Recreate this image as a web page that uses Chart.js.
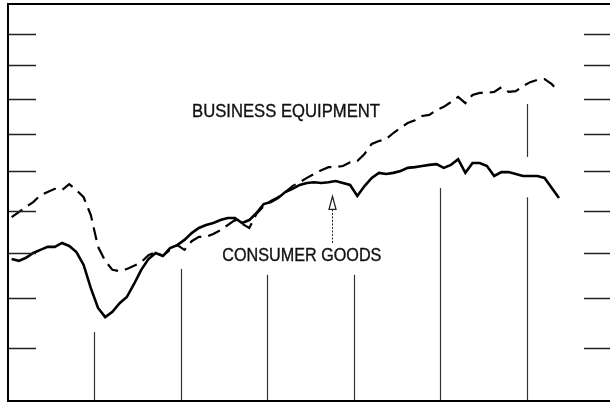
<!DOCTYPE html>
<html lang="en">
<head>
<meta charset="UTF-8">
<title>Business equipment vs consumer goods</title>
<script src="https://cdn.jsdelivr.net/npm/chart.js"></script>
<style>
    html, body { margin: 0; padding: 0; overflow: hidden; background: #fff; }
    .grafico { width: 614px; height: 403px; }
</style>
</head>
<body>
<div class="grafico"><canvas id="linhas"></canvas></div>

<script>
    // monthly index values (log scale, 7 years shown)
    const consumerGoods = [
        138.6, 138.2, 138.9, 140.0, 140.7, 141.4, 141.4, 142.3, 141.6, 140.2, 137.3, 132.2,
        128.0, 126.1, 127.2, 129.0, 130.3, 133.1, 136.2, 138.6, 140.0, 139.3, 141.1, 141.8,
        143.0, 144.6, 145.8, 146.5, 147.0, 147.7, 148.2, 148.2, 147.0, 147.7, 149.4, 151.6,
        152.1, 153.1, 154.6, 155.4, 156.4, 156.9, 157.1, 156.9, 157.1, 157.4, 156.9, 156.4,
        153.6, 156.1, 158.2, 159.5, 159.2, 159.5, 160.0, 160.8, 161.0, 161.3, 161.6, 161.8,
        160.8, 161.6, 163.1, 159.5, 162.1, 162.1, 161.3, 158.7, 159.7, 159.7, 159.2, 158.7,
        158.7, 158.7, 158.2, 155.6, 153.1
    ];
    const businessEquipment = [
        148.4, 149.6, 150.9, 152.1, 153.8, 154.6, 155.4, 155.1, 156.6, 155.1, 153.3, 148.9,
        141.4, 138.2, 136.2, 135.9, 136.4, 137.1, 137.9, 139.5, 140.2, 139.3, 140.7, 141.8,
        140.7, 142.7, 143.7, 143.7, 144.4, 145.3, 146.5, 147.7, 146.8, 145.8, 149.2, 151.1,
        152.4, 153.3, 154.6, 156.1, 157.1, 158.2, 159.2, 160.2, 161.0, 161.0, 161.3, 162.3,
        162.6, 164.5, 167.2, 168.0, 168.5, 170.2, 171.6, 173.0, 173.8, 175.0, 175.3, 176.7,
        177.6, 179.0, 180.5, 178.7, 181.1, 181.7, 181.7, 182.0, 183.4, 182.0, 182.2, 183.7,
        184.9, 185.6, 185.8, 184.3, 182.0
    ];
    const yTicks = [120, 130, 140, 150, 160, 170, 180, 190, 200];
    const yearBreaks = [12, 24, 36, 48, 60, 72];
    const yearLineTops = [123.1, 136.4, 135.1, 135.1, 155.6, 178.4];
    const yearLineGaps = [null, null, null, null, null, [153.3, 163.7]];

    const pontos = serie => serie.map((v, i) => ({ x: i + 0.5, y: v }));

    const moldura = {
        id: 'moldura',
        afterDraw(chart) {
            const { ctx, chartArea: a, scales: { x, y } } = chart;
            ctx.save();

            // ticks at both sides
            ctx.strokeStyle = '#222';
            ctx.lineWidth = 1.5;
            yTicks.forEach(t => {
                const py = Math.round(y.getPixelForValue(t)) + 0.5;
                ctx.beginPath();
                ctx.moveTo(a.left, py); ctx.lineTo(a.left + 28, py);
                ctx.moveTo(a.right - 29, py); ctx.lineTo(a.right, py);
                ctx.stroke();
            });

            // year separators rising from the bottom
            ctx.strokeStyle = '#333';
            ctx.lineWidth = 1.2;
            yearBreaks.forEach((m, i) => {
                const px = Math.round(x.getPixelForValue(m)) + 0.5;
                const top = y.getPixelForValue(yearLineTops[i]);
                ctx.beginPath();
                const gap = yearLineGaps[i];
                if (gap) {
                    ctx.moveTo(px, a.bottom); ctx.lineTo(px, y.getPixelForValue(gap[0]));
                    ctx.moveTo(px, y.getPixelForValue(gap[1])); ctx.lineTo(px, top);
                } else {
                    ctx.moveTo(px, a.bottom); ctx.lineTo(px, top);
                }
                ctx.stroke();
            });

            // frame (right edge falls outside the window)
            ctx.strokeStyle = '#000';
            ctx.lineWidth = 2;
            ctx.strokeRect(a.left, a.top, a.right - a.left, a.bottom - a.top);

            // labels
            ctx.fillStyle = '#111';
            ctx.strokeStyle = '#111';
            ctx.lineWidth = 0.35;
            ctx.font = "18px 'Liberation Sans', Arial, sans-serif";
            ctx.textAlign = 'center';
            ctx.textBaseline = 'alphabetic';
            const bx = x.getPixelForValue(38.6), by = y.getPixelForValue(174.7);
            const cx = x.getPixelForValue(40.8), cy = y.getPixelForValue(138.2);
            ctx.fillText('BUSINESS EQUIPMENT', bx, by, 188);
            ctx.strokeText('BUSINESS EQUIPMENT', bx, by, 188);
            ctx.fillText('CONSUMER GOODS', cx, cy, 159);
            ctx.strokeText('CONSUMER GOODS', cx, cy, 159);

            // arrow pointing at consumer goods
            const ax = Math.round(x.getPixelForValue(45)) + 0.5;
            const tip = y.getPixelForValue(153.5);
            const base = tip + 13;
            const tail = y.getPixelForValue(142.2);
            ctx.lineWidth = 1;
            ctx.strokeStyle = '#222';
            ctx.setLineDash([2, 1.5]);
            ctx.beginPath();
            ctx.moveTo(ax, base); ctx.lineTo(ax, tail);
            ctx.stroke();
            ctx.setLineDash([]);
            ctx.lineWidth = 1.3;
            ctx.beginPath();
            ctx.moveTo(ax, tip); ctx.lineTo(ax - 3.5, base); ctx.lineTo(ax + 3.5, base); ctx.closePath();
            ctx.fillStyle = '#fff';
            ctx.fill();
            ctx.stroke();

            ctx.restore();
        }
    };

    new Chart(document.getElementById('linhas'), {
        type: 'line',
        data: {
            datasets: [
                {
                    label: 'Business equipment',
                    data: pontos(businessEquipment),
                    borderColor: '#000',
                    borderWidth: 2.2,
                    borderDash: [13, 7],
                    pointRadius: 0,
                    tension: 0,
                },
                {
                    label: 'Consumer goods',
                    data: pontos(consumerGoods),
                    borderColor: '#000',
                    borderWidth: 2.6,
                    pointRadius: 0,
                    tension: 0,
                }
            ]
        },
        options: {
            responsive: true,
            maintainAspectRatio: false,
            animation: false,
            layout: { padding: { left: 8, top: 4, right: 1, bottom: 2 } },
            scales: {
                x: { type: 'linear', min: 0, max: 84, display: false },
                y: { type: 'logarithmic', min: 110, max: 210, display: false }
            },
            plugins: {
                legend: { display: false },
                tooltip: { enabled: false }
            }
        },
        plugins: [moldura]
    });
</script>
</body>
</html>
